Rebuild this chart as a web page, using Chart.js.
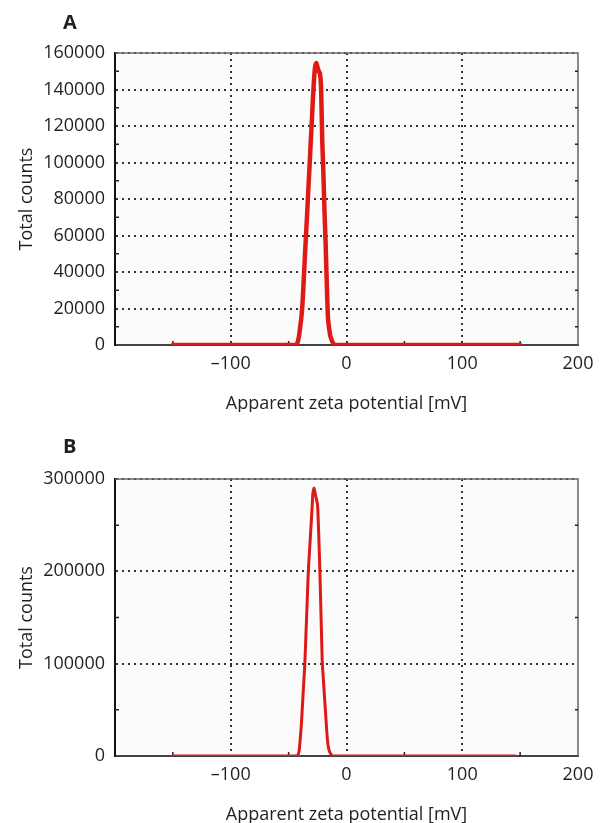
<!DOCTYPE html>
<html>
<head>
<meta charset="utf-8">
<script src="https://cdn.jsdelivr.net/npm/chart.js@4"></script>
<style>
  body { margin: 0; background: #fff; width: 606px; height: 823px; position: relative; overflow: hidden; }
  .panel { position: absolute; left: 0; width: 606px; }
  #boxA { top: 0; height: 412px; }
  #boxB { top: 412px; height: 411px; }
  .letter { position: absolute; left: 63px; font: bold 20px "Open Sans", sans-serif; color: #231f20; }
</style>
</head>
<body>
<div class="panel" id="boxA"><canvas id="chartA"></canvas></div>
<div class="panel" id="boxB"><canvas id="chartB"></canvas></div>
<div class="letter" style="top:8px">A</div>
<div class="letter" style="top:432px">B</div>
<script>
// panel A
const zetaA = [-150, -100, -50, -44, -43, -42, -41, -40, -39, -38, -37, -36, -35, -34, -33, -32, -31, -30, -29, -28, -27, -26,
  -25, -24, -23, -22, -21, -20, -19, -18, -17, -16, -15, -14, -13, -12, -11, -10, 0, 50, 100, 150];
const countsA = [0, 0, 0, 0, 500, 2000, 5000, 10000, 15000, 23000, 35000, 48000, 60000, 72000, 85000, 97000, 110000, 122000, 135000, 146000, 153000, 154500,
  152000, 150000, 149000, 142000, 113000, 95000, 73000, 55000, 33000, 15000, 9000, 5000, 3000, 1500, 500, 0, 0, 0, 0, 0];

// panel B
const zetaB = [-150, -100, -50, -43, -42, -41, -40, -39, -38, -37, -36, -35, -34, -33, -32, -31, -30, -29, -28, -27, -26,
  -25, -24, -23, -22, -21, -20, -19, -18, -17, -16, -15, -14, -13, -12, 0, 50, 100, 146];
const countsB = [0, 0, 0, 0, 1000, 5000, 18000, 34000, 56000, 78000, 100000, 133000, 166000, 200000, 221000, 242000, 263000, 285000, 290000, 284000, 278000,
  272000, 240000, 200000, 152000, 104000, 83000, 64000, 45000, 26000, 12000, 6000, 3000, 1000, 0, 0, 0, 0, 0];

const xTicks = [-200, -100, 0, 100, 200];
const yMaxA = 160000, yStepA = 20000;
const yMaxB = 300000, yStepB = 100000;

const FONT = '"Open Sans", sans-serif';
const INK = '#231f20';

// plot background, frame and small inward minor ticks
const framePlugin = {
  id: 'frame',
  beforeDraw(chart) {
    const a = chart.chartArea, ctx = chart.ctx;
    ctx.save();
    ctx.fillStyle = '#fbfbfb';
    ctx.fillRect(a.left, a.top, a.right - a.left, a.bottom - a.top);
    ctx.restore();
  },
  beforeDatasetsDraw(chart) {
    const a = chart.chartArea, ctx = chart.ctx;
    ctx.save();
    ctx.strokeStyle = '#666';
    ctx.lineWidth = 1.5;
    ctx.beginPath();
    ctx.moveTo(a.left, a.top);
    ctx.lineTo(a.right, a.top);
    ctx.lineTo(a.right, a.bottom);
    ctx.stroke();
    ctx.strokeStyle = '#222';
    ctx.lineWidth = 1.5;
    const xs = chart.scales.x, ys = chart.scales.y;
    for (let i = 0; i < xs.ticks.length - 1; i++) {
      const px = xs.getPixelForValue((xs.ticks[i].value + xs.ticks[i + 1].value) / 2);
      ctx.beginPath();
      ctx.moveTo(px, a.bottom);
      ctx.lineTo(px, a.bottom - 4);
      ctx.stroke();
    }
    for (let i = 0; i < ys.ticks.length - 1; i++) {
      const py = ys.getPixelForValue((ys.ticks[i].value + ys.ticks[i + 1].value) / 2);
      ctx.beginPath();
      ctx.moveTo(a.left, py);
      ctx.lineTo(a.left + 4, py);
      ctx.moveTo(a.right, py);
      ctx.lineTo(a.right - 3, py);
      ctx.stroke();
    }
    ctx.restore();
  }
};

function makeChart(id, xs, ys, yMax, yStep, lineW, top) {
  const pts = xs.map((x, i) => ({ x: x, y: ys[i] }));
  return new Chart(document.getElementById(id), {
    type: 'line',
    data: {
      datasets: [{
        data: pts,
        borderColor: '#de1a16',
        borderWidth: lineW,
        pointRadius: 0,
        tension: 0.2,
        borderJoinStyle: 'round',
        borderCapStyle: 'round'
      }]
    },
    options: {
      responsive: true,
      maintainAspectRatio: false,
      animation: false,
      layout: { padding: { top: top, right: 28, bottom: 0, left: 0 } },
      plugins: { legend: { display: false }, tooltip: { enabled: false } },
      scales: {
        x: {
          type: 'linear',
          min: xTicks[0],
          max: xTicks[xTicks.length - 1],
          afterBuildTicks: s => { s.ticks = xTicks.map(v => ({ value: v })); },
          afterFit: s => { s.height = 67; },
          ticks: {
            padding: 8,
            color: INK,
            font: { family: FONT, size: 18 },
            maxRotation: 0,
            callback: v => v === xTicks[0] ? '' : (v < 0 ? '\u2013' + Math.abs(v) : String(v))
          },
          grid: {
            drawTicks: false,
            lineWidth: 2,
            color: c => (c.tick && (c.tick.value === xTicks[0] || c.tick.value === xTicks[xTicks.length - 1])) ? 'rgba(0,0,0,0)' : '#333'
          },
          border: { color: '#444', width: 2, dash: [2, 4] },
          title: {
            display: true,
            text: 'Apparent zeta potential [mV]',
            color: INK,
            font: { family: FONT, size: 18, lineHeight: 1 },
            padding: { top: 0, bottom: -1 }
          }
        },
        y: {
          min: 0,
          max: yMax,
          afterFit: s => { s.width = 115; },
          ticks: {
            stepSize: yStep,
            padding: 10,
            color: INK,
            font: { family: FONT, size: 18 },
            callback: v => String(v)
          },
          grid: {
            drawTicks: false,
            lineWidth: 2,
            color: c => (c.tick && c.tick.value === 0) ? 'rgba(0,0,0,0)' : '#333'
          },
          border: { color: '#111', width: 2, dash: [2, 4] },
          title: {
            display: true,
            text: 'Total counts',
            color: INK,
            font: { family: FONT, size: 18, lineHeight: 1 },
            padding: { top: 18, bottom: 0 }
          }
        }
      }
    },
    plugins: [framePlugin]
  });
}

makeChart('chartA', zetaA, countsA, yMaxA, yStepA, 4.5, 53);
makeChart('chartB', zetaB, countsB, yMaxB, yStepB, 3, 67);
</script>
</body>
</html>
